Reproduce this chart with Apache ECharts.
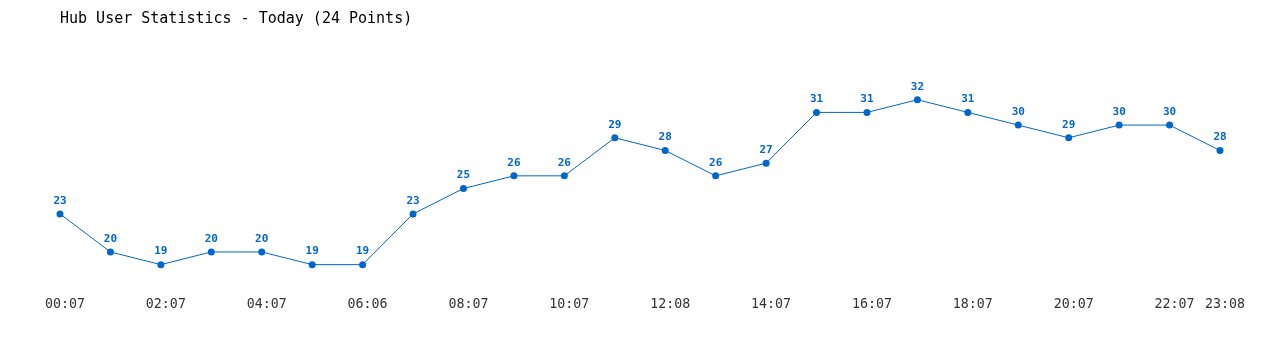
<!DOCTYPE html>
<html><head><meta charset="utf-8">
<script src="https://cdn.jsdelivr.net/npm/echarts@6/dist/echarts.min.js"></script>
<style>html,body{margin:0;padding:0;background:#fff}#c{width:1280px;height:350px}</style>
</head><body><div id="c"></div>
<script>
const titleText = "Hub User Statistics - Today (24 Points)";
const times = ["00:07","01:07","02:07","03:07","04:07","05:07","06:06","07:07","08:07","09:07","10:07","11:07","12:08","13:07","14:07","15:07","16:07","17:07","18:07","19:07","20:07","21:07","22:07","23:08"];
const users = [23,20,19,20,20,19,19,23,25,26,26,29,28,26,27,31,31,32,31,30,29,30,30,28];
const font = "DejaVu Sans Mono";
const chart = echarts.init(document.getElementById('c'), null, {renderer:'canvas'});
chart.setOption({
  animation:false,
  backgroundColor:'#fff',
  title:{text:titleText,left:55,top:7,textStyle:{fontFamily:font,fontSize:15,fontWeight:'normal',color:'#000'}},
  grid:{left:60,right:60,top:49,bottom:60},
  xAxis:{type:'category',data:times,boundaryGap:false,
    axisLine:{show:false},axisTick:{show:false},splitLine:{show:false},
    axisLabel:{interval:(i)=> i%2===0 || i===times.length-1,margin:8,padding:[0,0,0,10],fontFamily:font,fontSize:13.3,color:'#333'}},
  yAxis:{type:'value',min:17,max:36,show:false,splitLine:{show:false}},
  series:[{type:'line',data:users,symbol:'circle',symbolSize:7,
    lineStyle:{color:'#0066cc',width:1},itemStyle:{color:'#0066cc'},
    label:{show:true,position:'top',distance:4,fontFamily:font,fontSize:11,fontWeight:'bold',color:'#0066cc'}}]
});
</script></body></html>
